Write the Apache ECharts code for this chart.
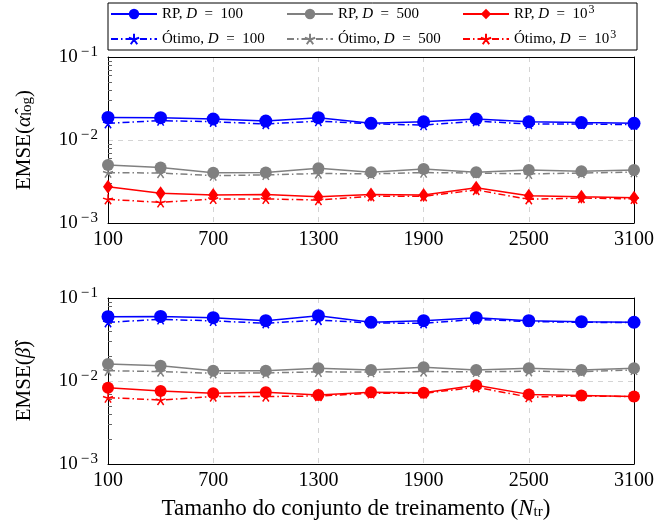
<!DOCTYPE html>
<html>
<head>
<meta charset="utf-8">
<script src="https://cdn.jsdelivr.net/npm/echarts@6/dist/echarts.min.js"></script>
<style>
  html, body { margin: 0; padding: 0; background: #fff; }
  #chart { width: 657px; height: 528px; }
</style>
</head>
<body>
<div id="chart"></div>
<script>
const trainSizes = [100, 400, 700, 1000, 1300, 1600, 1900, 2200, 2500, 2800, 3100];

// EMSE(alpha_log)
const alphaRp100  = [0.0187, 0.0186, 0.0179, 0.0169, 0.0186, 0.0159, 0.0166, 0.0179, 0.0166, 0.0162, 0.0159];
const alphaOpt100 = [0.0159, 0.0171, 0.0166, 0.0156, 0.0169, 0.0157, 0.0151, 0.0169, 0.0156, 0.0156, 0.0153];
const alphaRp500  = [0.0050, 0.00465, 0.00404, 0.00405, 0.00456, 0.0041, 0.00448, 0.0041, 0.00436, 0.0042, 0.00436];
const alphaOpt500 = [0.00404, 0.0040, 0.00372, 0.0038, 0.00395, 0.0039, 0.00405, 0.0040, 0.0039, 0.0040, 0.0041];
const alphaRp1k   = [0.00274, 0.00228, 0.00217, 0.0022, 0.00207, 0.0022, 0.00217, 0.00266, 0.00213, 0.00207, 0.00202];
const alphaOpt1k  = [0.00193, 0.00177, 0.00195, 0.00195, 0.00189, 0.0021, 0.0021, 0.0025, 0.00193, 0.0020, 0.00195];

// EMSE(beta)
const betaRp100  = [0.0596, 0.0600, 0.0580, 0.0533, 0.0612, 0.0510, 0.0533, 0.0580, 0.0533, 0.0519, 0.0510];
const betaOpt100 = [0.0510, 0.0553, 0.0530, 0.0496, 0.0543, 0.0500, 0.0496, 0.0553, 0.0520, 0.0510, 0.0505];
const betaRp500  = [0.0160, 0.0153, 0.0133, 0.0133, 0.0142, 0.0136, 0.0146, 0.0136, 0.0142, 0.0136, 0.0142];
const betaOpt500 = [0.0133, 0.0130, 0.0124, 0.0125, 0.0129, 0.0128, 0.0130, 0.0129, 0.0131, 0.0130, 0.0136];
const betaRp1k   = [0.0083, 0.0076, 0.0071, 0.0073, 0.0068, 0.0073, 0.0072, 0.0089, 0.0069, 0.0067, 0.0065];
const betaOpt1k  = [0.0063, 0.0059, 0.0065, 0.0065, 0.0066, 0.0071, 0.0071, 0.0084, 0.0064, 0.0066, 0.0065];

const minorTicks = [0.002, 0.003, 0.004, 0.005, 0.006, 0.007, 0.008, 0.009,
                    0.02, 0.03, 0.04, 0.05, 0.06, 0.07, 0.08, 0.09];

const names = ['RP, D = 100', 'RP, D = 500', 'RP, D = 1000',
               'Ótimo, D = 100', 'Ótimo, D = 500', 'Ótimo, D = 1000'];

const BLUE = '#0000ff', GRAY = '#808080', RED = '#ff0000';
const FONT = 'Liberation Serif';
const STAR = 'path://M0,-10L0,0M9.51,-3.09L0,0M5.88,8.09L0,0M-5.88,8.09L0,0M-9.51,-3.09L0,0';
const DASHDOT = [7, 3, 1.5, 3];

const pairs = (ys) => trainSizes.map((x, i) => [x, ys[i]]);

// main axes: x index idx*3, y index idx*3
function rpSeries(name, data, color, symbol, size, idx) {
    return {
        name: name, type: 'line', xAxisIndex: idx * 3, yAxisIndex: idx * 3,
        data: pairs(data), symbol: symbol, symbolSize: size,
        lineStyle: { color: color, width: 1.5 },
        itemStyle: { color: color },
        z: 6
    };
}

function optSeries(name, data, color, idx) {
    return {
        name: name, type: 'line', xAxisIndex: idx * 3, yAxisIndex: idx * 3,
        data: pairs(data), symbol: STAR, symbolSize: 10,
        lineStyle: { color: color, width: 1.5, type: DASHDOT },
        itemStyle: { color: color, borderColor: color, borderWidth: 1.5 },
        z: 5
    };
}

const supRich = {
    b: { fontFamily: FONT, fontSize: 19, color: '#000', lineHeight: 24 },
    s: { fontFamily: FONT, fontSize: 15, color: '#000', verticalAlign: 'top', lineHeight: 24, padding: [0, 0, 0, 3] }
};

function yLabel(v) {
    const e = Math.round(Math.log10(v));
    return '{b|10}{s|' + (e < 0 ? '\u2212\u200A' + (-e) : e) + '}';
}

function gridBox(top) {
    return { left: 108, width: 528, top: top, height: 166, show: false };
}

const gridLine = { show: true, lineStyle: { color: '#d4d4d4', type: [5, 5], width: 1 } };
const frame = { show: true, onZero: false, lineStyle: { color: '#000', width: 1 } };

function xAxesFor(idx, withName) {
    const ax = {
        type: 'value', gridIndex: idx, min: 100, max: 3100, interval: 600, z: 1,
        axisLine: { show: false },
        axisTick: { show: false },
        axisLabel: { fontFamily: FONT, fontSize: 20, color: '#000', margin: 7,
                     formatter: (v) => String(v) },
        splitLine: gridLine
    };
    if (withName) {
        ax.name = '{a|Tamanho do conjunto de treinamento (}{i|N}{u|tr}{a|)}';
        ax.nameLocation = 'middle';
        ax.nameGap = 33;
        ax.nameTextStyle = {
            padding: [0, 30, 0, 0],
            rich: {
                a: { fontFamily: FONT, fontSize: 23, color: '#000' },
                i: { fontFamily: FONT, fontSize: 23, fontStyle: 'italic', color: '#000' },
                u: { fontFamily: FONT, fontSize: 15, color: '#000', verticalAlign: 'bottom', padding: [8, 0, 0, 0] }
            }
        };
    }
    const border = (pos) => ({
        type: 'value', gridIndex: idx, min: 100, max: 3100, position: pos, z: 4,
        axisLine: frame, axisTick: { show: false }, axisLabel: { show: false }, splitLine: { show: false }
    });
    return [ax, border('top'), border('bottom')];
}

function yAxesFor(idx, nameText) {
    return [
        {
            type: 'log', logBase: 10, gridIndex: idx, min: 0.001, max: 0.1, z: 1,
            name: nameText, nameLocation: 'middle', nameGap: 73, nameRotate: 90,
            nameTextStyle: { rich: nameRich },
            axisLine: { show: false },
            axisTick: { show: false },
            axisLabel: { formatter: yLabel, rich: supRich, margin: 10 },
            splitLine: gridLine,
            minorTick: { show: false }
        },
        {
            type: 'log', logBase: 10, gridIndex: idx, min: 0.001, max: 0.1, position: 'left', z: 4,
            axisLine: frame, axisLabel: { show: false }, splitLine: { show: false },
            axisTick: { show: true, inside: true, length: 4, customValues: minorTicks, lineStyle: { color: '#666' } }
        },
        {
            type: 'log', logBase: 10, gridIndex: idx, min: 0.001, max: 0.1, position: 'right', z: 4,
            axisLine: frame, axisLabel: { show: false }, splitLine: { show: false },
            axisTick: { show: false }
        }
    ];
}

const nameRich = {
    a: { fontFamily: FONT, fontSize: 21, color: '#000' },
    g: { fontFamily: FONT, fontSize: 21, fontStyle: 'italic', color: '#000' },
    u: { fontFamily: FONT, fontSize: 15, color: '#000', verticalAlign: 'bottom', padding: [7, 0, 0, 0] }
};
const alphaName = '{a|EMSE(}{g|α̂}{u|log}{a|)}';
const betaName = '{a|EMSE(}{g|β̂}{a|)}';

const legendRich = {
    r: { fontFamily: FONT, fontSize: 15, color: '#000' },
    i: { fontFamily: FONT, fontSize: 15, fontStyle: 'italic', color: '#000' },
    s: { fontFamily: FONT, fontSize: 12, color: '#000', verticalAlign: 'top', padding: [0, 0, 0, 1] }
};

function legendLabel(name) {
    const m = name.match(/^(RP|Ótimo), D = (\d+)$/);
    const val = m[2] === '1000' ? '{r|10}{s|3}' : '{r|' + m[2] + '}';
    return '{r|' + m[1] + ', }{i|D}{r|\u2002=\u2002}' + val;
}

function initChart() {
    const chart = echarts.init(document.getElementById('chart'), null, { renderer: 'canvas' });
    const option = {
        animation: false,
        backgroundColor: '#fff',
        legend: {
            data: names,
            left: 108, top: 3, width: 540,
            orient: 'horizontal',
            borderColor: '#000', borderWidth: 1, borderRadius: 0,
            padding: [1, 4, 1, 2],
            itemWidth: 46, itemHeight: 13, itemGap: 5,
            formatter: legendLabel,
            textStyle: { width: 119, lineHeight: 20, rich: legendRich }
        },
        grid: [gridBox(57), gridBox(298)],
        xAxis: xAxesFor(0, false).concat(xAxesFor(1, true)),
        yAxis: yAxesFor(0, alphaName).concat(yAxesFor(1, betaName)),
        series: [
            optSeries(names[3], alphaOpt100, BLUE, 0),
            optSeries(names[4], alphaOpt500, GRAY, 0),
            optSeries(names[5], alphaOpt1k, RED, 0),
            rpSeries(names[0], alphaRp100, BLUE, 'circle', 13, 0),
            rpSeries(names[1], alphaRp500, GRAY, 'circle', 12, 0),
            rpSeries(names[2], alphaRp1k, RED, 'diamond', [10, 14], 0),
            optSeries(names[3], betaOpt100, BLUE, 1),
            optSeries(names[4], betaOpt500, GRAY, 1),
            optSeries(names[5], betaOpt1k, RED, 1),
            rpSeries(names[0], betaRp100, BLUE, 'circle', 13, 1),
            rpSeries(names[1], betaRp500, GRAY, 'circle', 12, 1),
            rpSeries(names[2], betaRp1k, RED, 'circle', 12, 1)
        ]
    };
    chart.setOption(option);
}

window.onload = initChart;
</script>
</body>
</html>
